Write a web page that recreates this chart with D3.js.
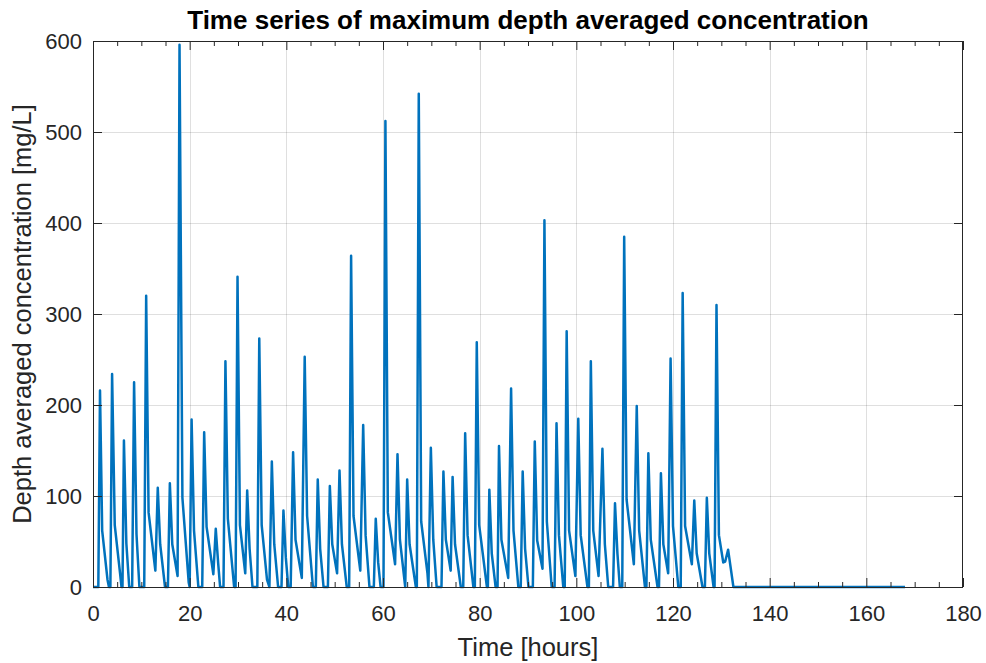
<!DOCTYPE html>
<html>
<head>
<meta charset="utf-8">
<script src="https://cdn.jsdelivr.net/npm/d3@7"></script>
<style>
  html, body { margin: 0; padding: 0; background: #fff; }
  svg { display: block; }
  text { font-family: "Liberation Sans", Arial, Helvetica, sans-serif; }
</style>
</head>
<body>
<svg id="chart" width="986" height="663"></svg>
<script>
// ---- data ----
const timeHours = [
  0, 1.1, 1.45, 1.9, 3.0, 3.3, 3.6, 3.95, 4.5, 5.6, 5.9, 6.1, 6.4, 6.9, 7.5, 8.1,
  8.5, 9.0, 9.6, 10.6, 11.0, 11.5, 12.9, 13.4, 13.9, 14.9, 15.5, 15.9, 16.4, 17.5,
  17.9, 18.5, 19.8, 20.0, 20.4, 20.9, 21.8, 22.6, 23.0, 23.5, 24.9, 25.4, 25.9, 26.3,
  27.0, 27.4, 27.9, 29.2, 29.5, 29.9, 30.4, 31.5, 31.9, 32.4, 33.0, 34.0, 34.4, 34.9,
  36.0, 36.5, 37.0, 37.5, 38.3, 39.0, 39.4, 39.9, 40.4, 40.9, 41.4, 41.9, 43.2, 43.8,
  44.3, 45.5, 46.1, 46.5, 47.0, 47.7, 48.6, 49.0, 49.5, 50.5, 51.0, 51.5, 52.5, 53.0,
  53.4, 53.9, 55.3, 55.9, 56.4, 57.2, 58.1, 58.5, 59.0, 59.5, 60.1, 60.5, 61.0, 62.5,
  63.0, 63.5, 64.6, 65.0, 65.5, 66.8, 67.0, 67.4, 67.9, 69.2, 69.4, 69.9, 70.4, 71.1,
  72.1, 72.5, 73.0, 74.0, 74.4, 74.9, 76.1, 76.6, 77.0, 77.5, 78.7, 79.0, 79.4, 79.9,
  81.5, 81.7, 82.0, 82.5, 83.3, 83.7, 84.0, 84.5, 85.9, 86.5, 87.0, 88.0, 88.5, 88.9,
  89.4, 90.1, 91.0, 91.4, 91.9, 93.0, 93.4, 93.9, 94.9, 95.5, 95.9, 96.4, 97.3, 97.6,
  98.0, 98.5, 99.8, 100.4, 100.9, 102.3, 102.6, 103.0, 103.5, 104.6, 105.4, 105.9,
  106.6, 107.6, 108.0, 108.5, 109.0, 109.5, 109.9, 110.4, 111.9, 112.5, 113.0, 114.2,
  114.5, 114.9, 115.4, 116.8, 117.1, 117.5, 118.0, 119.0, 119.5, 120.0, 121.1, 121.6,
  122.0, 122.5, 123.9, 124.4, 124.9, 126.1, 126.6, 127.0, 127.5, 128.4, 128.6, 129.0,
  129.5, 130.4, 130.8, 131.4, 132.5, 168
];
const concentration = [
  0, 0, 216, 62, 8, 0, 0, 234, 68, 15, 0, 0, 161, 48, 0, 0,
  225, 58, 0, 0, 320, 82, 18, 109, 47, 0, 0, 114, 47, 12,
  596, 98, 5, 0, 184, 62, 0, 0, 170, 66, 14, 64, 26, 0,
  0, 248, 75, 0, 0, 341, 68, 15, 106, 42, 0, 0, 273, 68,
  8, 0, 138, 47, 0, 0, 84, 32, 0, 0, 148, 52, 10, 253,
  78, 0, 0, 118, 42, 0, 0, 111, 47, 15, 128, 47, 0, 0,
  364, 78, 18, 178, 57, 0, 0, 75, 27, 0, 0, 512, 82, 25,
  146, 52, 0, 118, 47, 0, 0, 542, 72, 15, 0, 153, 52, 0,
  0, 127, 52, 18, 121, 47, 0, 0, 169, 57, 0, 0, 269, 68,
  0, 0, 107, 37, 0, 0, 155, 52, 10, 218, 62, 0, 0, 127,
  42, 0, 0, 160, 51, 20, 403, 72, 0, 0, 180, 57, 0, 0,
  281, 62, 12, 185, 57, 0, 0, 248, 62, 12, 152, 47,
  0, 0, 92, 37, 0, 0, 385, 96, 25, 199, 62, 0,
  0, 147, 52, 0, 0, 125, 47, 15, 251, 67, 0, 0,
  323, 67, 25, 95, 37, 0, 0, 98, 37, 0, 0, 310,
  57, 27, 28, 41, 0, 0
];
const xTicks = [0, 20, 40, 60, 80, 100, 120, 140, 160, 180];
const xMinorTicks = d3.range(0, 181, 5).filter(v => v % 20 !== 0);
const yTicks = [0, 100, 200, 300, 400, 500, 600];
const titleText = "Time series of maximum depth averaged concentration";
const xLabelText = "Time [hours]";
const yLabelText = "Depth averaged concentration [mg/L]";

// ---- layout ----
const L = 93, R = 963, T = 41, B = 587;
const axisColor = "#262626";
const svg = d3.select("#chart");

const x = d3.scaleLinear().domain([0, 180]).range([L, R]);
const y = d3.scaleLinear().domain([0, 600]).range([B, T]);

// grid
const grid = svg.append("g").attr("stroke", axisColor).attr("stroke-opacity", 0.15).attr("stroke-width", 1);
grid.selectAll("line.gx").data(xTicks.slice(1, -1)).join("line")
  .attr("x1", d => Math.round(x(d)) + 0.5).attr("x2", d => Math.round(x(d)) + 0.5)
  .attr("y1", T).attr("y2", B);
grid.selectAll("line.gy").data(yTicks.slice(1, -1)).join("line")
  .attr("y1", d => Math.round(y(d)) + 0.5).attr("y2", d => Math.round(y(d)) + 0.5)
  .attr("x1", L).attr("x2", R);

// data line
const pts = timeHours.map((t, i) => [t, concentration[i]]);
svg.append("path")
  .datum(pts)
  .attr("fill", "none")
  .attr("stroke", "#0072BD")
  .attr("stroke-width", 2.5)
  .attr("stroke-linejoin", "round")
  .attr("d", d3.line().x(d => x(d[0])).y(d => y(d[1])));

// axes
function styleAxis(g) {
  g.select(".domain").remove();
  g.selectAll(".tick line").attr("stroke", axisColor).attr("stroke-width", 1);
  g.selectAll(".tick text").attr("fill", axisColor).style("font-size", "22px");
}
svg.append("g").attr("transform", `translate(0,${B})`)
  .call(d3.axisBottom(x).tickValues(xTicks).tickSize(-9).tickSizeOuter(0).tickPadding(18).tickFormat(d3.format("d")))
  .call(styleAxis);
svg.append("g").attr("transform", `translate(0,${B})`)
  .call(d3.axisBottom(x).tickValues(xMinorTicks).tickSize(-5).tickSizeOuter(0).tickFormat(""))
  .call(styleAxis);
svg.append("g").attr("transform", `translate(0,${T})`)
  .call(d3.axisTop(x).tickValues(xTicks).tickSize(-9).tickSizeOuter(0).tickFormat(""))
  .call(styleAxis);
svg.append("g").attr("transform", `translate(0,${T})`)
  .call(d3.axisTop(x).tickValues(xMinorTicks).tickSize(-5).tickSizeOuter(0).tickFormat(""))
  .call(styleAxis);
svg.append("g").attr("transform", `translate(${L},0)`)
  .call(d3.axisLeft(y).tickValues(yTicks).tickSize(-9).tickSizeOuter(0).tickPadding(11).tickFormat(d3.format("d")))
  .call(styleAxis);
svg.append("g").attr("transform", `translate(${R},0)`)
  .call(d3.axisRight(y).tickValues(yTicks).tickSize(-9).tickSizeOuter(0).tickFormat(""))
  .call(styleAxis);

// box
svg.append("rect")
  .attr("x", L + 0.5).attr("y", T + 0.5)
  .attr("width", R - L - 1).attr("height", B - T)
  .attr("fill", "none").attr("stroke", axisColor).attr("stroke-width", 1);

// title & labels
svg.append("text")
  .attr("x", (L + R) / 2).attr("y", 29)
  .attr("text-anchor", "middle")
  .style("font-size", "26px").style("font-weight", "bold").attr("fill", "#000")
  .text(titleText);
svg.append("text")
  .attr("x", (L + R) / 2).attr("y", 656)
  .attr("text-anchor", "middle")
  .style("font-size", "25.5px").attr("fill", axisColor)
  .text(xLabelText);
svg.append("text")
  .attr("transform", `translate(31,${(T + B) / 2}) rotate(-90)`)
  .attr("text-anchor", "middle")
  .style("font-size", "25.5px").attr("fill", axisColor)
  .text(yLabelText);
</script>
</body>
</html>
